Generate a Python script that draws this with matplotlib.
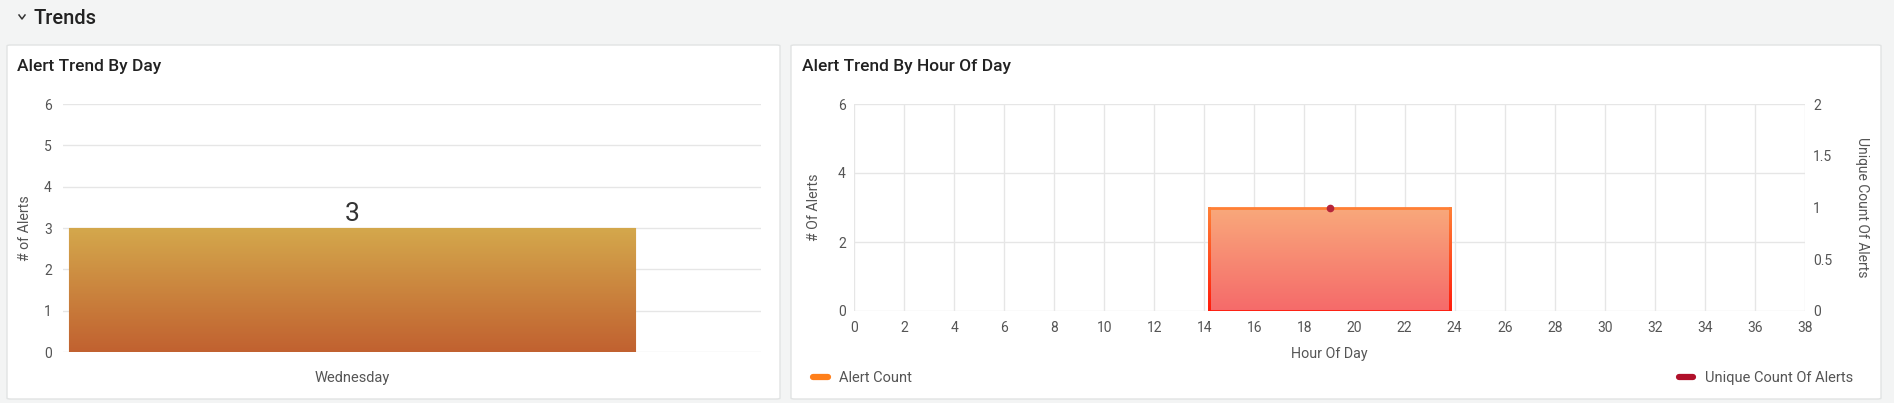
import numpy as np
import matplotlib
matplotlib.use('Agg')
import matplotlib.pyplot as plt
from matplotlib.patches import FancyBboxPatch
from matplotlib.lines import Line2D
from matplotlib.collections import LineCollection
from matplotlib.colors import LinearSegmentedColormap

plt.rcParams['font.family'] = ['Roboto', 'DejaVu Sans']

# data
days = ['Wednesday']
day_counts = [3]

hours = [19]
hour_counts = [3]
hour_unique = [1]

day_ticks = [0, 1, 2, 3, 4, 5, 6]
hour_xticks = list(range(0, 40, 2))
hour_yticks = [0, 2, 4, 6]
unique_ticks = [0, 0.5, 1, 1.5, 2]

W, H = 1894, 403
BG = '#f3f4f4'
GRID = '#e6e6e6'
TICK = '#555555'
TITLE = '#222222'


def box(x0, y0, x1, y1):
    # pixel box (top-left origin) -> figure fraction rect
    return [x0 / W, 1 - y1 / H, (x1 - x0) / W, (y1 - y0) / H]


def pt(x, y):
    return x / W, 1 - y / H


def gradient_fill(ax, patch, c_top, c_bot):
    x, y = patch.get_x(), patch.get_y()
    w, h = patch.get_width(), patch.get_height()
    cmap = LinearSegmentedColormap.from_list('g', [c_bot, c_top])
    grad = np.linspace(0, 1, 256).reshape(-1, 1)
    im = ax.imshow(grad, cmap=cmap, origin='lower', aspect='auto',
                   extent=[x, x + w, y, y + h], zorder=patch.get_zorder())
    im.set_clip_path(patch)
    patch.set_facecolor('none')


fig = plt.figure(figsize=(W / 100, H / 100), dpi=100)
fig.patch.set_facecolor(BG)

# header
cx, cy = pt(19, 15), pt(22, 19)
fig.add_artist(Line2D([cx[0], cy[0], pt(25, 15)[0]], [cx[1], cy[1], pt(25, 15)[1]],
                      transform=fig.transFigure, color='#333333', lw=1.1))
fig.text(*pt(33, 18), 'Trends', fontsize=14.5, color=TITLE, va='center', ha='left',
         fontweight='medium')

# panels
for x0, x1 in [(7, 780), (791, 1881)]:
    r = box(x0, 45, x1, 399)
    p = FancyBboxPatch((r[0], r[1]), r[2], r[3],
                       boxstyle='round,pad=0,rounding_size=0.002',
                       transform=fig.transFigure, facecolor='white',
                       edgecolor='#e1e3e3', linewidth=1, zorder=-5)
    fig.add_artist(p)

fig.text(*pt(17, 66), 'Alert Trend By Day', fontsize=12.5, color=TITLE, va='center',
         fontweight='medium')
fig.text(*pt(802, 66), 'Alert Trend By Hour Of Day', fontsize=12.5, color=TITLE,
         va='center', fontweight='medium')

# ---- left chart ----
ax1 = fig.add_axes(box(63, 104, 761, 352), zorder=2)
ax1.set_facecolor('none')
xpos = np.arange(len(days))
bars = ax1.bar(xpos, day_counts, width=1.0, edgecolor='#cf7d2e', linewidth=0.8, zorder=3)
for b in bars:
    gradient_fill(ax1, b, '#d4a84c', '#c16130')
    ax1.text(b.get_x() + b.get_width() / 2, b.get_height() + 0.04, str(int(b.get_height())),
             ha='center', va='bottom', fontsize=19, color='#333333')
ax1.set_xlim(-0.5106, 0.7226)
ax1.set_ylim(0, 6)
ax1.set_yticks(day_ticks)
ax1.set_xticks(xpos)
ax1.set_xticklabels(days)
ax1.grid(axis='y', color=GRID, linewidth=1)
ax1.set_axisbelow(True)
for s in ax1.spines.values():
    s.set_visible(False)
ax1.tick_params(axis='y', length=0, pad=8, labelsize=10, labelcolor=TICK)
ax1.tick_params(axis='x', length=0, pad=14, labelsize=10.5, labelcolor=TICK)
ax1.set_ylabel('# of Alerts', fontsize=10.2, color=TICK, labelpad=9)

# ---- right chart ----
ax2 = fig.add_axes(box(854, 104, 1805, 311), zorder=2)
ax2.set_facecolor('none')
hb = ax2.bar(hours, hour_counts, width=9.6, linewidth=0, zorder=3)
for b in hb:
    gradient_fill(ax2, b, '#f9a97b', '#f56a6a')
    x0, x1 = b.get_x(), b.get_x() + b.get_width()
    top = b.get_height()
    ys = np.linspace(0, top, 60)
    cm = LinearSegmentedColormap.from_list('e', ['#ff1a0a', '#ff7f35'])
    segs, cols = [], []
    for xx in (x0, x1):
        for i in range(len(ys) - 1):
            segs.append([(xx, ys[i]), (xx, ys[i + 1])])
            cols.append(cm(ys[i] / top))
    segs.append([(x0, top), (x1, top)])
    cols.append(cm(1.0))
    segs.append([(x0, 0), (x1, 0)])
    cols.append(cm(0.0))
    ax2.add_collection(LineCollection(segs, colors=cols, linewidths=2, zorder=4,
                                      capstyle='projecting'))
ax2.set_xlim(0, 38)
ax2.set_ylim(0, 6)
ax2.set_xticks(hour_xticks)
ax2.set_yticks(hour_yticks)
ax2.grid(True, color=GRID, linewidth=1)
ax2.set_axisbelow(True)
for s in ax2.spines.values():
    s.set_visible(False)
ax2.tick_params(length=0, labelsize=10, labelcolor=TICK)
ax2.tick_params(axis='x', pad=7)
ax2.tick_params(axis='y', pad=6)
ax2.set_xlabel('Hour Of Day', fontsize=10.3, color=TICK, labelpad=9)
ax2.set_ylabel('# Of Alerts', fontsize=10.2, color=TICK, labelpad=12)

ax3 = ax2.twinx()
ax3.set_ylim(0, 2)
ax3.set_yticks(unique_ticks)
ax3.set_yticklabels(['0', '0.5', '1', '1.5', '2'])
for s in ax3.spines.values():
    s.set_visible(False)
ax3.tick_params(length=0, labelsize=10, labelcolor=TICK, pad=6)
ax3.plot(hours, hour_unique, 'o', color='#b5253b', markersize=4.5, zorder=6)
ax3.set_ylabel('Unique Count Of Alerts', fontsize=10, color=TICK, rotation=270,
               va='bottom', labelpad=16)

# legends
h1 = Line2D([], [], color='#ff7f1a', lw=4.5, solid_capstyle='round')
h2 = Line2D([], [], color='#b0102a', lw=4.5, solid_capstyle='round')
fig.legend([h1], ['Alert Count'], loc='center left', bbox_to_anchor=pt(800, 378),
           frameon=False, fontsize=10.5, handlelength=1.0, handletextpad=0.8,
           labelcolor=TICK)
fig.legend([h2], ['Unique Count Of Alerts'], loc='center right', bbox_to_anchor=pt(1866, 378),
           frameon=False, fontsize=10.5, handlelength=1.0, handletextpad=0.8,
           labelcolor=TICK)

fig.savefig('out.png', dpi=100, facecolor=BG)
